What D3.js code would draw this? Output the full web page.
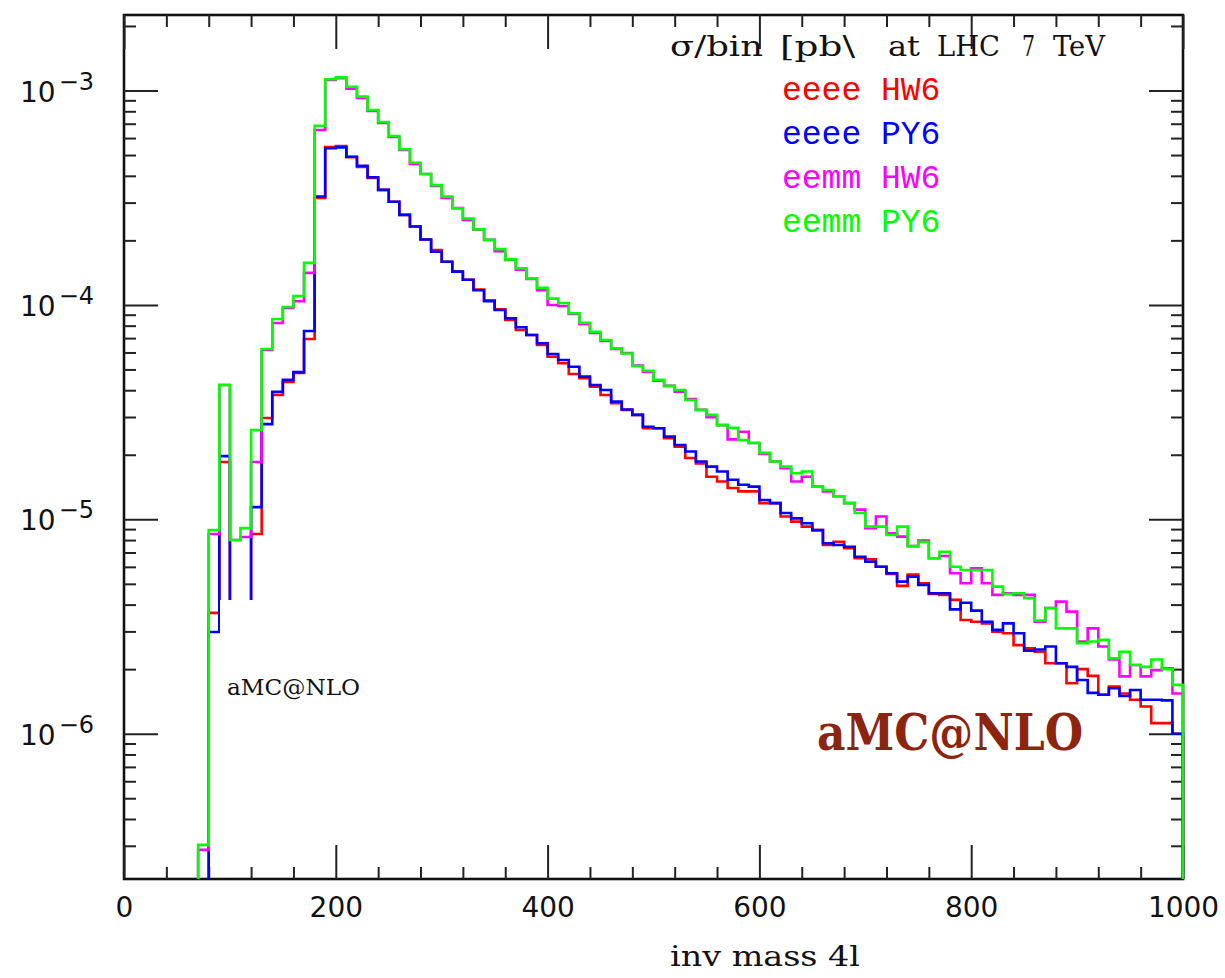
<!DOCTYPE html>
<html>
<head>
<meta charset="utf-8">
<script src="https://cdn.jsdelivr.net/npm/d3@7"></script>
<style>
html,body{margin:0;padding:0;background:#fff;}
svg{display:block;}
</style>
</head>
<body>
<svg id="chart" width="1225" height="978"></svg>
<script>
// ---------------- data ----------------
// lower edges of the 10 GeV mass bins (inv mass 4l)
const massBins = [70, 80, 90,
  100,110,120,130,140,150,160,170,180,190,
  200,210,220,230,240,250,260,270,280,290,
  300,310,320,330,340,350,360,370,380,390,
  400,410,420,430,440,450,460,470,480,490,
  500,510,520,530,540,550,560,570,580,590,
  600,610,620,630,640,650,660,670,680,690,
  700,710,720,730,740,750,760,770,780,790,
  800,810,820,830,840,850,860,870,880,890,
  900,910,920,930,940,950,960,970,980,990];
const binWidth = 10;

// sigma/bin [pb]
const eeeeHW6 = [null, 3.66e-6, 1.85e-5,
  2.0e-6, 2.0e-6, 8.54e-6, 2.97e-5, 3.80e-5, 4.37e-5, 4.81e-5, 6.93e-5, 3.15e-4, 5.45e-4,
  5.51e-4, 4.89e-4, 4.40e-4, 3.91e-4, 3.44e-4, 3.03e-4, 2.63e-4, 2.32e-4, 2.02e-4, 1.80e-4,
  1.59e-4, 1.43e-4, 1.31e-4, 1.18e-4, 1.05e-4, 9.54e-5, 8.51e-5, 7.64e-5, 7.24e-5, 6.50e-5,
  5.73e-5, 5.34e-5, 4.76e-5, 4.55e-5, 4.15e-5, 3.80e-5, 3.48e-5, 3.24e-5, 3.07e-5, 2.66e-5,
  2.66e-5, 2.39e-5, 2.18e-5, 1.93e-5, 1.82e-5, 1.58e-5, 1.50e-5, 1.40e-5, 1.35e-5, 1.35e-5,
  1.19e-5, 1.19e-5, 1.03e-5, 9.75e-6, 9.24e-6, 8.90e-6, 7.59e-6, 7.86e-6, 7.33e-6, 6.58e-6,
  6.50e-6, 6.01e-6, 5.56e-6, 4.89e-6, 5.53e-6, 5.03e-6, 4.48e-6, 4.44e-6, 4.21e-6, 3.39e-6,
  3.33e-6, 3.27e-6, 2.99e-6, 2.94e-6, 2.59e-6, 2.50e-6, 2.41e-6, 2.13e-6, 2.13e-6, 1.72e-6,
  2.00e-6, 1.86e-6, 1.52e-6, 1.66e-6, 1.54e-6, 1.44e-6, 1.34e-6, 1.12e-6, 1.12e-6, 1.00e-6];

const eeeePY6 = [null, 2.98e-6, 1.97e-5,
  2.0e-6, 2.0e-6, 1.14e-5, 2.78e-5, 3.93e-5, 4.47e-5, 4.86e-5, 7.56e-5, 3.20e-4, 5.38e-4,
  5.43e-4, 4.91e-4, 4.45e-4, 3.94e-4, 3.44e-4, 3.03e-4, 2.63e-4, 2.32e-4, 2.02e-4, 1.77e-4,
  1.59e-4, 1.43e-4, 1.31e-4, 1.17e-4, 1.04e-4, 9.47e-5, 8.66e-5, 7.86e-5, 7.24e-5, 6.62e-5,
  5.90e-5, 5.53e-5, 5.15e-5, 4.63e-5, 4.23e-5, 4.01e-5, 3.54e-5, 3.25e-5, 3.07e-5, 2.70e-5,
  2.66e-5, 2.43e-5, 2.22e-5, 2.07e-5, 1.86e-5, 1.76e-5, 1.67e-5, 1.53e-5, 1.45e-5, 1.42e-5,
  1.23e-5, 1.19e-5, 1.07e-5, 1.01e-5, 9.58e-6, 8.90e-6, 7.73e-6, 7.59e-6, 7.45e-6, 6.69e-6,
  6.34e-6, 6.01e-6, 5.60e-6, 5.12e-6, 5.40e-6, 4.94e-6, 4.52e-6, 4.52e-6, 3.80e-6, 4.08e-6,
  3.75e-6, 3.33e-6, 3.05e-6, 3.27e-6, 2.94e-6, 2.44e-6, 2.47e-6, 2.55e-6, 2.13e-6, 2.05e-6,
  1.78e-6, 1.55e-6, 1.52e-6, 1.63e-6, 1.50e-6, 1.60e-6, 1.44e-6, 1.44e-6, 1.43e-6, 1.00e-6];

const eemmHW6 = [2.87e-7, 8.54e-6, 4.23e-5,
  8.0e-6, 8.27e-6, 1.85e-5, 6.16e-5, 8.23e-5, 9.67e-5, 1.04e-4, 1.41e-4, 6.54e-4, 1.12e-3,
  1.14e-3, 1.02e-3, 9.23e-4, 8.02e-4, 7.05e-4, 6.07e-4, 5.28e-4, 4.54e-4, 4.08e-4, 3.59e-4,
  3.15e-4, 2.83e-4, 2.49e-4, 2.24e-4, 2.01e-4, 1.78e-4, 1.62e-4, 1.46e-4, 1.32e-4, 1.17e-4,
  9.99e-5, 9.88e-5, 9.07e-5, 8.15e-5, 7.40e-5, 6.79e-5, 6.23e-5, 5.97e-5, 5.21e-5, 4.88e-5,
  4.43e-5, 4.19e-5, 3.94e-5, 3.64e-5, 3.24e-5, 2.99e-5, 2.75e-5, 2.36e-5, 2.56e-5, 2.27e-5,
  2.02e-5, 1.86e-5, 1.73e-5, 1.50e-5, 1.58e-5, 1.42e-5, 1.35e-5, 1.28e-5, 1.19e-5, 1.11e-5,
  9.08e-6, 1.03e-5, 8.60e-6, 8.30e-6, 7.50e-6, 7.95e-6, 6.58e-6, 6.74e-6, 5.60e-6, 5.03e-6,
  5.91e-6, 5.03e-6, 4.44e-6, 4.52e-6, 4.44e-6, 4.44e-6, 3.33e-6, 3.86e-6, 4.13e-6, 3.71e-6,
  2.69e-6, 3.10e-6, 2.55e-6, 2.22e-6, 1.85e-6, 2.09e-6, 1.85e-6, 1.98e-6, 2.02e-6, 1.54e-6];

const eemmPY6 = [3.03e-7, 8.9e-6, 4.23e-5,
  8.0e-6, 9.1e-6, 2.61e-5, 6.23e-5, 8.6e-5, 9.78e-5, 1.10e-4, 1.57e-4, 6.85e-4, 1.128e-3,
  1.152e-3, 1.041e-3, 9.36e-4, 8.11e-4, 7.13e-4, 6.13e-4, 5.32e-4, 4.60e-4, 4.08e-4, 3.62e-4,
  3.20e-4, 2.82e-4, 2.53e-4, 2.25e-4, 2.01e-4, 1.82e-4, 1.63e-4, 1.48e-4, 1.33e-4, 1.20e-4,
  1.07e-4, 1.02e-4, 9.14e-5, 8.26e-5, 7.50e-5, 6.86e-5, 6.27e-5, 5.93e-5, 5.19e-5, 4.93e-5,
  4.47e-5, 4.19e-5, 4.01e-5, 3.60e-5, 3.24e-5, 3.07e-5, 2.75e-5, 2.67e-5, 2.34e-5, 2.27e-5,
  2.04e-5, 1.86e-5, 1.76e-5, 1.64e-5, 1.67e-5, 1.42e-5, 1.37e-5, 1.28e-5, 1.19e-5, 1.07e-5,
  9.24e-6, 9.24e-6, 8.45e-6, 9.24e-6, 7.50e-6, 7.86e-6, 6.58e-6, 7.06e-6, 6.01e-6, 5.80e-6,
  5.80e-6, 5.80e-6, 4.85e-6, 4.48e-6, 4.52e-6, 4.28e-6, 3.37e-6, 3.85e-6, 3.10e-6, 3.10e-6,
  2.64e-6, 2.69e-6, 2.74e-6, 2.25e-6, 2.41e-6, 2.09e-6, 2.05e-6, 2.22e-6, 2.00e-6, 1.69e-6];

const seriesNames = ["eeee HW6", "eeee PY6", "eemm HW6", "eemm PY6"];
const seriesColors = ["#ff0000", "#0000ff", "#ff00ff", "#00ff00"];
const xMajorTicks = [0, 200, 400, 600, 800, 1000];
const yLabelExponents = [-3, -4, -5, -6];
const titleWords = ["σ/bin", "[pb\\", "at", "LHC", "7", "TeV"];
const xTitle = "inv mass 4l";
const tagText = "aMC@NLO";

// ---------------- layout ----------------
const L = 124, R = 1183, T = 15, B = 879;
const svg = d3.select("#chart");
const x = d3.scaleLinear().domain([0, 1000]).range([L, R]);
const y = d3.scaleLog().domain([2.1e-7, 2.25e-3]).range([B, T]).clamp(true);

// frame
svg.append("rect").attr("x", L).attr("y", T).attr("width", R - L).attr("height", B - T)
  .attr("fill", "none").attr("stroke", "#111").attr("stroke-width", 2.6);

// tick sets
const xMinor = d3.range(0, 1001, 40).filter(v => v % 200 !== 0);
const yMajor = [1e-7, 1e-6, 1e-5, 1e-4, 1e-3].filter(v => v >= y.domain()[0] && v <= y.domain()[1]);
const yMinor = [];
[1e-7, 1e-6, 1e-5, 1e-4, 1e-3].forEach(d => {
  for (let k = 2; k <= 9; k++) {
    const v = d * k;
    if (v >= y.domain()[0] && v <= y.domain()[1]) yMinor.push(v);
  }
});

function styleAxis(g) {
  g.select(".domain").remove();
  g.selectAll(".tick line").attr("stroke", "#222").attr("stroke-width", 2);
}
// bottom
svg.append("g").attr("transform", `translate(0,${B})`)
  .call(d3.axisBottom(x).tickValues(xMinor).tickSize(-12).tickFormat("")).call(styleAxis);
svg.append("g").attr("transform", `translate(0,${B})`)
  .call(d3.axisBottom(x).tickValues(xMajorTicks).tickSize(-34).tickPadding(18).tickFormat(d3.format("d")))
  .call(styleAxis)
  .call(g => g.selectAll("text").attr("font-family", "DejaVu Sans, sans-serif")
    .attr("font-size", 28).attr("fill", "#111"));
// top
svg.append("g").attr("transform", `translate(0,${T})`)
  .call(d3.axisTop(x).tickValues(xMinor).tickSize(-12).tickFormat("")).call(styleAxis);
svg.append("g").attr("transform", `translate(0,${T})`)
  .call(d3.axisTop(x).tickValues(xMajorTicks).tickSize(-34).tickFormat("")).call(styleAxis);
// left
svg.append("g").attr("transform", `translate(${L},0)`)
  .call(d3.axisLeft(y).tickValues(yMinor).tickSize(-12).tickFormat("")).call(styleAxis);
svg.append("g").attr("transform", `translate(${L},0)`)
  .call(d3.axisLeft(y).tickValues(yMajor).tickSize(-34).tickFormat("")).call(styleAxis);
// right
svg.append("g").attr("transform", `translate(${R},0)`)
  .call(d3.axisRight(y).tickValues(yMinor).tickSize(-12).tickFormat("")).call(styleAxis);
svg.append("g").attr("transform", `translate(${R},0)`)
  .call(d3.axisRight(y).tickValues(yMajor).tickSize(-34).tickFormat("")).call(styleAxis);

// y labels 10^e
const yl = svg.append("g").attr("font-family", "DejaVu Sans, sans-serif").attr("fill", "#111");
yLabelExponents.forEach(e => {
  const t = yl.append("text").attr("x", 20).attr("y", y(Math.pow(10, e)) + 11).attr("font-size", 28);
  t.append("tspan").text("10");
  t.append("tspan").attr("font-size", 24).attr("dx", 3).attr("dy", -12).text("−" + Math.abs(e));
});

// histograms
const series = [eeeeHW6, eeeePY6, eemmHW6, eemmPY6];
const line = d3.line().x(d => x(d[0])).y(d => d[1] === null ? B : y(d[1])).curve(d3.curveStepAfter);
series.forEach((vals, si) => {
  const first = vals.findIndex(v => v !== null);
  const pts = [[massBins[first], null]];
  for (let i = first; i < vals.length; i++) pts.push([massBins[i], vals[i]]);
  const last = massBins[massBins.length - 1] + binWidth;
  pts.push([last, vals[vals.length - 1]]);
  pts.push([last, null]);
  svg.append("path").attr("d", line(pts)).attr("fill", "none")
    .attr("stroke", seriesColors[si]).attr("stroke-width", 2.6)
    .attr("stroke-linejoin", "miter");
});

// white label box masking the low-mass region
svg.append("rect").attr("x", 220).attr("y", 600).attr("width", 148).attr("height", 105).attr("fill", "#fff");
svg.append("text").attr("x", 227).attr("y", 695).attr("font-family", "DejaVu Serif, serif")
  .attr("font-size", 22).attr("textLength", 133).attr("lengthAdjust", "spacingAndGlyphs")
  .attr("fill", "#111").text(tagText);

// title (word positions & widths as in the original layout)
const titleX = [670, 780, 888, 937, 1022, 1053];
const titleW = [93, 75, 32, 63, 13, 52];
titleWords.forEach((w, i) => {
  svg.append("text").attr("x", titleX[i]).attr("y", 56)
    .attr("font-family", "DejaVu Serif, serif").attr("font-size", 27)
    .attr("textLength", titleW[i]).attr("lengthAdjust", "spacingAndGlyphs")
    .attr("fill", "#111").text(w);
});

// legend
seriesNames.forEach((n, i) => {
  svg.append("text").attr("x", 782).attr("y", 100 + i * 44)
    .attr("font-family", "Liberation Mono, monospace").attr("font-size", 33)
    .attr("fill", seriesColors[i]).text(n);
});

// x title
svg.append("text").attr("x", 670).attr("y", 966).attr("font-family", "DejaVu Serif, serif")
  .attr("font-size", 27).attr("textLength", 190).attr("lengthAdjust", "spacingAndGlyphs")
  .attr("fill", "#111").text(xTitle);

// big tag
svg.append("text").attr("x", 817).attr("y", 750).attr("font-family", "DejaVu Serif, serif")
  .attr("font-weight", "bold").attr("font-size", 51).attr("textLength", 266)
  .attr("lengthAdjust", "spacingAndGlyphs").attr("fill", "#8b2510").text(tagText);
</script>
</body>
</html>
